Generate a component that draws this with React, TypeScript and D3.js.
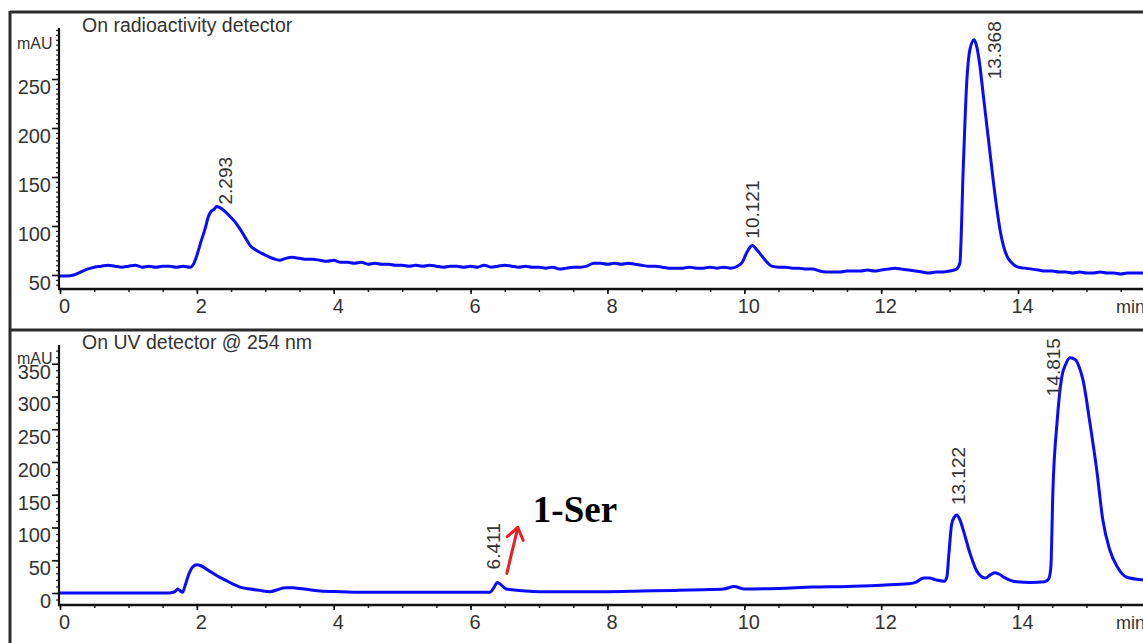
import * as d3 from 'd3';
import { useEffect, useRef } from 'react';

// radioactivity detector trace (min / mAU)
const radioTime = [
    0.0, 0.1, 0.2, 0.3, 0.4, 0.5, 0.6, 0.7, 0.8, 0.9, 1.0, 1.1, 1.2, 1.3, 1.4, 1.5, 1.6, 1.7, 1.8, 1.9,
    1.95, 2.0, 2.06, 2.12, 2.17, 2.21, 2.25, 2.29, 2.33, 2.41, 2.48, 2.56, 2.63, 2.7, 2.78, 2.85, 2.95,
    3.07, 3.15, 3.21, 3.3, 3.39, 3.5, 3.6, 3.7, 3.8, 3.9, 4.0, 4.1, 4.2, 4.3, 4.4, 4.5, 4.6, 4.7, 4.8,
    4.9, 5.0, 5.1, 5.2, 5.3, 5.4, 5.5, 5.6, 5.7, 5.8, 5.9, 6.0, 6.1, 6.2, 6.3, 6.4, 6.5, 6.6, 6.7, 6.8,
    6.9, 7.0, 7.1, 7.2, 7.3, 7.4, 7.5, 7.6, 7.7, 7.8, 7.9, 8.0, 8.1, 8.2, 8.3, 8.4, 8.5, 8.6, 8.7, 8.8,
    8.9, 9.0, 9.1, 9.2, 9.3, 9.4, 9.5, 9.6, 9.7, 9.8, 9.9, 9.97, 10.03, 10.08, 10.12, 10.18, 10.25,
    10.32, 10.4, 10.5, 10.6, 10.7, 10.8, 10.9, 11.0, 11.1, 11.2, 11.3, 11.4, 11.5, 11.6, 11.7, 11.8,
    11.9, 12.0, 12.1, 12.2, 12.3, 12.4, 12.5, 12.6, 12.7, 12.8, 12.9, 13.0, 13.1, 13.15, 13.2, 13.25,
    13.3, 13.36, 13.4, 13.44, 13.49, 13.54, 13.59, 13.64, 13.69, 13.74, 13.79, 13.84, 13.9, 14.0, 14.1,
    14.2, 14.3, 14.4, 14.5, 14.6, 14.7, 14.8, 14.9, 15.0, 15.1, 15.2, 15.3, 15.4, 15.5, 15.6, 15.7,
    15.8, 15.9, 16.0,
];
const radioSignal = [
    49, 49, 50, 53, 56, 58, 59, 60, 59, 58, 59, 60, 58, 59, 58, 59, 59, 58, 59, 58,
    61, 70, 84, 97, 110, 115, 117, 120, 119, 115, 110, 104, 97, 89, 80, 76, 72,
    68, 66, 65, 67, 68, 67, 66, 66, 65, 64, 65, 63, 63, 62, 63, 61, 62, 61, 61,
    60, 60, 59, 60, 59, 60, 59, 58, 59, 59, 58, 59, 58, 60, 58, 59, 60, 59, 58, 59,
    58, 58, 57, 58, 56, 57, 58, 58, 59, 62, 62, 61, 62, 61, 62, 61, 60, 59, 59, 58,
    57, 57, 57, 58, 57, 57, 58, 57, 58, 57, 59, 63, 72, 78, 80, 76, 70,
    64, 59, 58, 58, 57, 57, 56, 56, 54, 53, 53, 53, 54, 54, 54, 55,
    54, 55, 56, 57, 56, 55, 54, 53, 52, 53, 53, 54, 56, 62, 160, 246,
    281, 290, 282, 265, 235, 205, 175, 145, 118, 95, 79, 69, 63, 58, 57,
    56, 55, 54, 54, 53, 53, 52, 53, 52, 52, 53, 52, 52, 51, 52, 52,
    52, 52, 52,
];

// UV detector trace @ 254 nm (min / mAU)
const uvTime = [
    0.0, 1.6, 1.68, 1.72, 1.76, 1.79, 1.83, 1.88, 1.94, 2.0, 2.05, 2.19, 2.3, 2.41, 2.52, 2.63, 2.78,
    2.92, 3.07, 3.18, 3.29, 3.4, 3.5, 3.65, 3.8, 4.1, 4.5, 5.0, 5.5, 6.0, 6.28, 6.34, 6.39, 6.45, 6.52,
    6.6, 6.8, 7.0, 7.5, 8.0, 8.5, 9.0, 9.4, 9.7, 9.85, 10.0, 10.5, 11.0, 11.5, 12.0, 12.4, 12.52, 12.62,
    12.7, 12.8, 12.92, 12.96, 12.99, 13.03, 13.07, 13.1, 13.15, 13.2, 13.3, 13.4, 13.52, 13.6, 13.66,
    13.72, 13.81, 13.9, 13.98, 14.18, 14.39, 14.45, 14.48, 14.51, 14.57, 14.64, 14.7, 14.76, 14.84,
    14.9, 14.95, 15.05, 15.15, 15.24, 15.34, 15.45, 15.59, 15.83, 16.0,
];
const uvSignal = [
    0, 0, 2, 6, 3, 1, 12, 28, 40, 43, 42, 33, 26, 20, 14, 9, 6,
    4, 2, 5, 8, 8, 7, 5, 3, 2, 1, 1, 1, 1, 1, 8, 16, 12, 6,
    5, 3, 2, 2, 2, 3, 4, 5, 6, 10, 6, 7, 9, 10, 12, 14, 17, 23,
    23, 20, 18, 24, 60, 105, 116, 119, 112, 96, 60, 33, 23, 28, 31,
    29, 23, 19, 17, 16, 17, 22, 40, 157, 260, 330, 350, 359, 356,
    343, 325, 260, 188, 111, 66, 40, 24, 20, 19,
];

const radioPeaks = ['2.293', '10.121', '13.368'];
const uvPeaks = ['6.411', '13.122', '14.815'];
const xTicks = [0, 2, 4, 6, 8, 10, 12, 14];
const radioTicks = [50, 100, 150, 200, 250];
const uvTicks = [0, 50, 100, 150, 200, 250, 300, 350];

const W = 1143;
const H = 643;
const FONT = "'Liberation Sans', Arial, sans-serif";
const TEXT = '#333';

const valueAt = (times: number[], values: number[], t: number) => {
    const i = d3.bisectLeft(times, t);
    if (i <= 0) return values[0];
    if (i >= times.length) return values[values.length - 1];
    const k = (t - times[i - 1]) / (times[i] - times[i - 1]);
    return values[i - 1] + k * (values[i] - values[i - 1]);
};

const App = () => {
    const svgRef = useRef<SVGSVGElement | null>(null);

    useEffect(() => {
        const svg = d3.select(svgRef.current);
        svg.selectAll('*').remove();
        svg.attr('width', W).attr('height', H);
        svg.append('rect').attr('width', W).attr('height', H).attr('fill', '#fff');

        const x = d3.scaleLinear().domain([0, 16]).range([60, 60 + 16 * 68.43]);

        const panels = [
            {
                title: 'On radioactivity detector',
                titleY: 32,
                time: radioTime,
                signal: radioSignal,
                peaks: radioPeaks,
                // label offsets: [dx from peak, gap above peak]
                offsets: [[8, 2], [0, 7], [20, -38]],
                y: d3.scaleLinear().domain([50, 250]).range([275, 79]),
                ticks: radioTicks,
                minorStep: 5,
                top: 28,
                bottom: 289,
                unitY: 49,
            },
            {
                title: 'On UV detector @ 254 nm',
                titleY: 349,
                time: uvTime,
                signal: uvSignal,
                peaks: uvPeaks,
                offsets: [[-5, 14], [0, 12], [-20, -37]],
                y: d3.scaleLinear().domain([0, 350]).range([593, 363.75]),
                ticks: uvTicks,
                minorStep: 10,
                top: 345,
                bottom: 605,
                unitY: 364,
            },
        ];

        // outer frame
        const frame = svg.append('g').attr('stroke', '#2a2a2a').attr('stroke-width', 3);
        frame.append('line').attr('x1', 10).attr('y1', 12).attr('x2', W).attr('y2', 12);
        frame.append('line').attr('x1', 10).attr('y1', 11).attr('x2', 10).attr('y2', H);
        frame.append('line').attr('x1', 10).attr('y1', 330).attr('x2', W).attr('y2', 330);

        panels.forEach((p) => {
            const g = svg.append('g');
            const vTop = p.y.invert(p.top);
            const vBottom = p.y.invert(p.bottom);

            // minor y ticks
            const yMinor = g
                .append('g')
                .attr('transform', 'translate(59,0)')
                .call(
                    d3
                        .axisLeft(p.y)
                        .tickValues(d3.range(Math.ceil(vBottom / p.minorStep) * p.minorStep, vTop, p.minorStep))
                        .tickSize(3)
                        .tickFormat(() => '')
                );
            yMinor.select('.domain').remove();
            yMinor.selectAll('line').attr('stroke', '#222').attr('stroke-width', 1.2);

            // major y ticks; labels sit a bit below their tick like the source print
            const yAxis = g
                .append('g')
                .attr('transform', 'translate(59,0)')
                .call(d3.axisLeft(p.y).tickValues(p.ticks).tickSize(7).tickPadding(1).tickFormat(d3.format('d')));
            yAxis.select('.domain').remove();
            yAxis.selectAll('line').attr('stroke', '#111').attr('stroke-width', 1.6);
            yAxis
                .selectAll('text')
                .attr('y', 8)
                .attr('font-family', FONT)
                .attr('font-size', 20)
                .attr('fill', TEXT);

            // x minor + major ticks
            const xMinor = g
                .append('g')
                .attr('transform', `translate(0,${p.bottom})`)
                .call(d3.axisBottom(x).tickValues(d3.range(0, 16.01, 0.5)).tickSize(3).tickFormat(() => ''));
            xMinor.select('.domain').remove();
            xMinor.selectAll('line').attr('stroke', '#222').attr('stroke-width', 1.5);

            const xAxis = g
                .append('g')
                .attr('transform', `translate(0,${p.bottom})`)
                .call(d3.axisBottom(x).tickValues(xTicks).tickSize(5).tickPadding(5).tickFormat(d3.format('d')));
            xAxis.select('.domain').remove();
            xAxis.selectAll('line').attr('stroke', '#111').attr('stroke-width', 1.6);
            xAxis
                .selectAll('text')
                .attr('x', 4)
                .attr('font-family', FONT)
                .attr('font-size', 20)
                .attr('fill', TEXT);

            // axis lines
            g.append('line')
                .attr('x1', 59)
                .attr('y1', p.top)
                .attr('x2', 59)
                .attr('y2', p.bottom + 1)
                .attr('stroke', '#111')
                .attr('stroke-width', 2.2);
            g.append('line')
                .attr('x1', 58)
                .attr('y1', p.bottom)
                .attr('x2', W)
                .attr('y2', p.bottom)
                .attr('stroke', '#111')
                .attr('stroke-width', 2.5);

            g.append('text')
                .attr('x', 1116)
                .attr('y', p.bottom + 24)
                .attr('font-family', FONT)
                .attr('font-size', 18)
                .attr('fill', TEXT)
                .text('min');

            g.append('text')
                .attr('x', 17)
                .attr('y', p.unitY)
                .attr('font-family', FONT)
                .attr('font-size', 16)
                .attr('fill', TEXT)
                .text('mAU');

            g.append('text')
                .attr('x', 82)
                .attr('y', p.titleY)
                .attr('font-family', FONT)
                .attr('font-size', 19.5)
                .attr('fill', TEXT)
                .text(p.title);

            // trace
            const line = d3
                .line<number>()
                .x((_, i) => x(p.time[i]))
                .y((d) => p.y(d))
                .curve(d3.curveMonotoneX);
            g.append('path')
                .datum(p.signal)
                .attr('d', line)
                .attr('fill', 'none')
                .attr('stroke', '#0a0aff')
                .attr('stroke-width', 3)
                .attr('stroke-linejoin', 'round');

            // retention time labels
            p.peaks.forEach((label, i) => {
                const t = +label;
                const [dx, gap] = p.offsets[i];
                const px = x(t) + dx;
                const py = p.y(valueAt(p.time, p.signal, t)) - gap;
                g.append('text')
                    .attr('transform', `translate(${px},${py}) rotate(-90)`)
                    .attr('dy', '0.35em')
                    .attr('font-family', FONT)
                    .attr('font-size', 19)
                    .attr('fill', TEXT)
                    .text(label);
            });
        });

        // 1-Ser annotation on the UV panel
        const yUv = panels[1].y;
        const tail: [number, number] = [x(6.53), yUv(30)];
        const head: [number, number] = [x(6.69), yUv(100)];
        const ang = Math.atan2(head[1] - tail[1], head[0] - tail[0]);
        const wing = 14;
        const spread = (36 * Math.PI) / 180;
        const w1: [number, number] = [
            head[0] - wing * Math.cos(ang - spread),
            head[1] - wing * Math.sin(ang - spread),
        ];
        const w2: [number, number] = [
            head[0] - wing * Math.cos(ang + spread),
            head[1] - wing * Math.sin(ang + spread),
        ];
        const arrow = svg
            .append('g')
            .attr('stroke', '#ec1c24')
            .attr('stroke-width', 3)
            .attr('fill', 'none')
            .attr('stroke-linecap', 'round')
            .attr('stroke-linejoin', 'round');
        arrow.append('path').attr('d', d3.line()([tail, head]));
        arrow.append('path').attr('d', d3.line()([w1, head, w2]));

        svg.append('text')
            .attr('x', x(6.91))
            .attr('y', yUv(108))
            .attr('font-family', "'Liberation Serif', 'Times New Roman', serif")
            .attr('font-weight', 'bold')
            .attr('font-size', 37)
            .attr('fill', '#000')
            .text('1-Ser');
    }, []);

    return <svg ref={svgRef} style={{ position: 'absolute', left: 0, top: 0, display: 'block' }} />;
};

export default App;
